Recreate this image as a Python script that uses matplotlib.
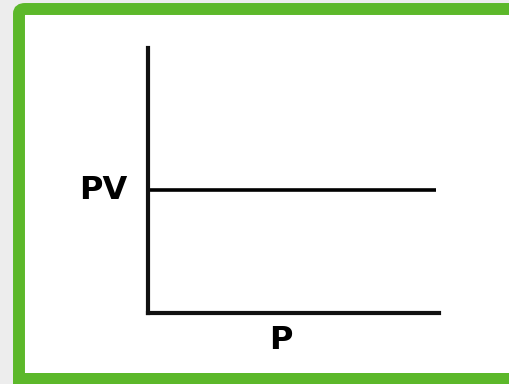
import matplotlib
matplotlib.use("Agg")
import matplotlib.pyplot as plt
from matplotlib.patches import FancyBboxPatch, Rectangle

# constant PV against P (Boyle's law)
pressure = [0.0, 0.99]
pv_value = [1.0, 1.0]

fig = plt.figure(figsize=(5.1, 3.84), dpi=100)
fig.patch.set_facecolor("#ededed")

W, H = 510, 384
green = "#5cb82a"

# green frame with white panel (behind the axes); bottom edge runs off the canvas
frame = FancyBboxPatch((19 / W, -30 / H), 511 / W, 405 / H,
                       boxstyle="round,pad=0,rounding_size=0.012",
                       transform=fig.transFigure, facecolor="white",
                       edgecolor=green, linewidth=8.6, zorder=-5)
fig.patches.append(frame)
fig.patches.append(Rectangle((13 / W, 0), 1, 11 / H, transform=fig.transFigure,
                             facecolor=green, edgecolor="none", zorder=-4))

ax = fig.add_axes([148 / W, (384 - 313) / H, (439 - 148) / W, (313 - 48) / H])
ax.set_facecolor("none")
ax.set_zorder(2)
ax.plot(pressure, pv_value, color="black", linewidth=2.6, solid_capstyle="butt")
ax.set_xlim(0, 1)
ax.set_ylim(0, 2.155)

for side in ("top", "right"):
    ax.spines[side].set_visible(False)
for side in ("left", "bottom"):
    ax.spines[side].set_linewidth(3.0)
    ax.spines[side].set_color("#111111")
ax.set_xticks([])
ax.set_yticks([])

ax.text(-0.07, pv_value[0], "PV", ha="right", va="center",
        fontsize=23, fontweight="bold", family="DejaVu Sans")
ax.set_xlabel("P", fontsize=23, fontweight="bold", family="DejaVu Sans")
ax.xaxis.set_label_coords(0.455, -0.045, transform=ax.transAxes)
ax.xaxis.label.set_va("top")

fig.savefig("out.png", dpi=100, facecolor=fig.get_facecolor())
